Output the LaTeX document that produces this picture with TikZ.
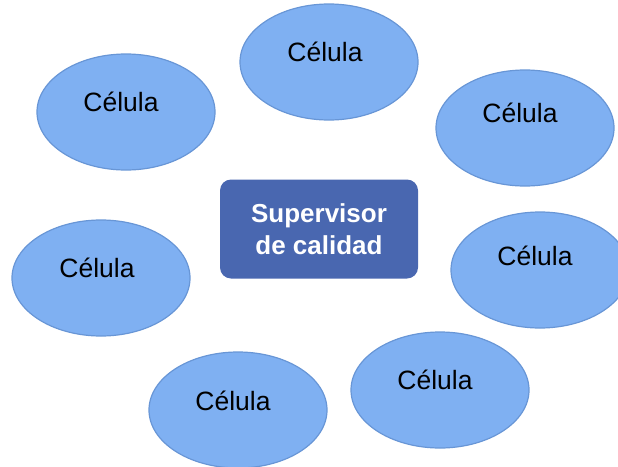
\documentclass[tikz,border=0pt]{standalone}
\usepackage{fontspec}
\setmainfont{Liberation Sans}
\usetikzlibrary{shapes.geometric}
\definecolor{cellfill}{RGB}{127,176,242}
\definecolor{celledge}{RGB}{104,150,214}
\definecolor{boxfill}{RGB}{73,103,176}
\tikzset{
  cell/.style={ellipse, draw=celledge, fill=cellfill, line width=1.2pt,
    minimum width=178pt, minimum height=116pt, inner sep=0pt},
  celltext/.style={font=\fontsize{26.5}{30}\selectfont, text=black, inner sep=0pt},
  supbox/.style={rectangle, rounded corners=11pt, fill=boxfill, draw=none,
    minimum width=198pt, minimum height=99pt, inner sep=0pt,
    text=white, align=center, font=\fontsize{26}{32}\selectfont\bfseries}
}
\begin{document}
\begin{tikzpicture}[x=1pt, y=-1pt]
  \useasboundingbox (0,0) rectangle (618,466);
  % cells around the supervisor
  \node[cell] (c1) at (329,62) {};
  \node[celltext] (t1) at (325,52) {Célula};
  \node[cell] (c2) at (126,112) {};
  \node[celltext] (t2) at (121,102) {Célula};
  \node[cell] (c3) at (525,128) {};
  \node[celltext] (t3) at (520,113) {Célula};
  \node[cell] (c4) at (101,278) {};
  \node[celltext] (t4) at (97,268) {Célula};
  \node[cell] (c5) at (540,270) {};
  \node[celltext] (t5) at (535,256) {Célula};
  \node[cell] (c6) at (440,390) {};
  \node[celltext] (t6) at (435,380) {Célula};
  \node[cell] (c7) at (238,410) {};
  \node[celltext] (t7) at (233,401) {Célula};
  % central supervisor box
  \node[supbox] (sup) at (319,229) {Supervisor\\de calidad};
\end{tikzpicture}
\end{document}
